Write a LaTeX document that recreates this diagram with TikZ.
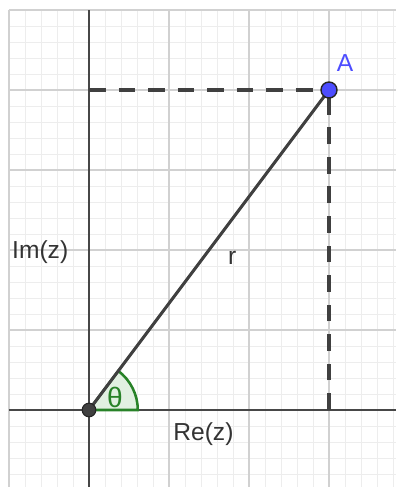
\documentclass[tikz,border=0pt]{standalone}
\usepackage{fontspec}
\setmainfont{Liberation Sans}
\definecolor{ptblue}{RGB}{77,77,255}
\definecolor{angcol}{RGB}{40,130,40}
\definecolor{angfill}{RGB}{225,240,225}

\begin{document}
\begin{tikzpicture}[x=2cm, y=2cm,
  minorgrid/.style={draw=black!7, line width=0.6pt},
  majorgrid/.style={draw=black!18, line width=0.9pt},
  axisline/.style={draw=black!72, line width=1.4pt},
  dashline/.style={draw=black!75, line width=2.4pt, dash pattern=on 12pt off 9pt},
  lbl/.style={text=black!80, font=\fontsize{17.5}{20}\selectfont}]
  \useasboundingbox (-1.1125,-0.9625) rectangle (3.8375,5.125);

  % Grid
  \draw[minorgrid, step=0.2] (-1,-0.9625) grid (3.8375,5);
  \draw[majorgrid, step=1] (-1,-0.9625) grid (3.8375,5);

  % Axes
  \draw[axisline] (-1,0) -- (3.8375,0);
  \draw[axisline] (0,-0.9625) -- (0,5);

  % Points
  \coordinate (O) at (0,0);
  \coordinate (A) at (3,4);
  \coordinate (Ax) at (3,0);
  \coordinate (Ay) at (0,4);

  % Angle
  \filldraw[fill=angfill, draw=angcol, line width=1.8pt]
    (O) -- (0.61,0) arc (0:53.13:0.61) -- cycle;

  % Dashed lines
  \draw[dashline] (Ax) -- (A);
  \draw[dashline] (Ay) -- (A);

  % Segment
  \draw[black!75, line width=2.2pt] (O) -- (A);
  \filldraw[fill=black!75, draw=black!85, line width=0.8pt] (O) circle (0.085);
  \filldraw[fill=ptblue, draw=black!85, line width=1pt] (A) circle (0.1);

  % Labels
  \node[lbl, text=ptblue] (labA) at (3.2,4.34) {A};
  \node[lbl] (labr) at (1.79,1.9) {r};
  \node[lbl] (labre) at (1.43,-0.3) {Re(z)};
  \node[lbl] (labim) at (-0.61,1.975) {Im(z)};
  \node[lbl, text=angcol, font=\fontsize{20}{22}\selectfont] (labth) at (0.325,0.16) {θ};
\end{tikzpicture}
\end{document}
